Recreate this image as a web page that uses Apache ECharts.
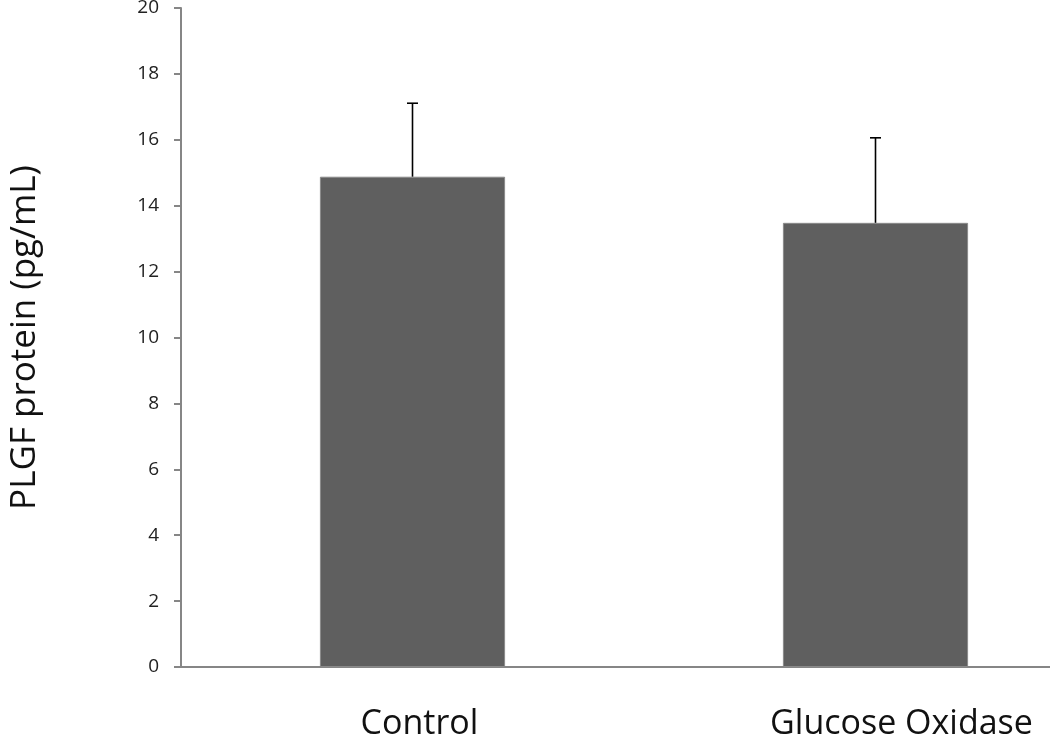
<!DOCTYPE html>
<html>
<head>
<meta charset="utf-8">
<script src="https://cdn.jsdelivr.net/npm/echarts@6/dist/echarts.min.js"></script>
<style>html,body{margin:0;padding:0;background:#fff}#c{width:1050px;height:739px}</style>
</head>
<body>
<div id="c"></div>
<script>
const categories = ['Control', 'Glucose Oxidase'];
const means = [14.88, 13.48];
const errUpper = [17.11, 16.06];
const yTicks = [0, 2, 4, 6, 8, 10, 12, 14, 16, 18, 20];

const chart = echarts.init(document.getElementById('c'));
const font = '"Open Sans", "Liberation Sans", sans-serif';
chart.setOption({
  animation: false,
  backgroundColor: '#fff',
  grid: { left: 181, top: 8, width: 926, height: 659, containLabel: false, outerBoundsMode: 'none' },
  xAxis: {
    type: 'category',
    data: [
      { value: categories[0], textStyle: { padding: [0, 0, 0, 14] } },
      { value: categories[1], textStyle: { padding: [0, 0, 0, 52] } }
    ],
    axisLine: { lineStyle: { color: '#868686', width: 2 } },
    axisTick: { show: false },
    axisLabel: { fontFamily: font, fontSize: 34, color: '#111', margin: 40 }
  },
  yAxis: {
    type: 'value',
    min: yTicks[0], max: yTicks[yTicks.length - 1], interval: 2,
    name: 'PLGF protein (pg/mL)',
    nameLocation: 'middle',
    nameGap: 138,
    nameRotate: 90,
    nameTextStyle: { fontFamily: font, fontSize: 35, color: '#111' },
    axisLine: { show: true, lineStyle: { color: '#868686', width: 2 } },
    axisTick: { show: true, length: 7, lineStyle: { color: '#868686', width: 2 } },
    splitLine: { show: false },
    axisLabel: { fontFamily: font, fontSize: 19, color: '#222', margin: 22 }
  },
  series: [
    {
      type: 'bar',
      data: means,
      barWidth: '40%',
      itemStyle: { color: '#5f5f5f', borderColor: '#8a8a8a', borderWidth: 1 },
      z: 2
    },
    {
      type: 'custom',
      data: categories.map((c, i) => [i, means[i], errUpper[i]]),
      renderItem: function (params, api) {
        const base = api.coord([api.value(0), api.value(1)]);
        const top = api.coord([api.value(0), api.value(2)]);
        const half = 5.5;
        return {
          type: 'group',
          children: [
            { type: 'line', shape: { x1: base[0], y1: base[1], x2: top[0], y2: top[1] }, style: { stroke: '#000', lineWidth: 1.6 } },
            { type: 'line', shape: { x1: top[0] - half, y1: top[1], x2: top[0] + half, y2: top[1] }, style: { stroke: '#000', lineWidth: 1.6 } }
          ]
        };
      },
      z: 3
    }
  ]
});
</script>
</body>
</html>
